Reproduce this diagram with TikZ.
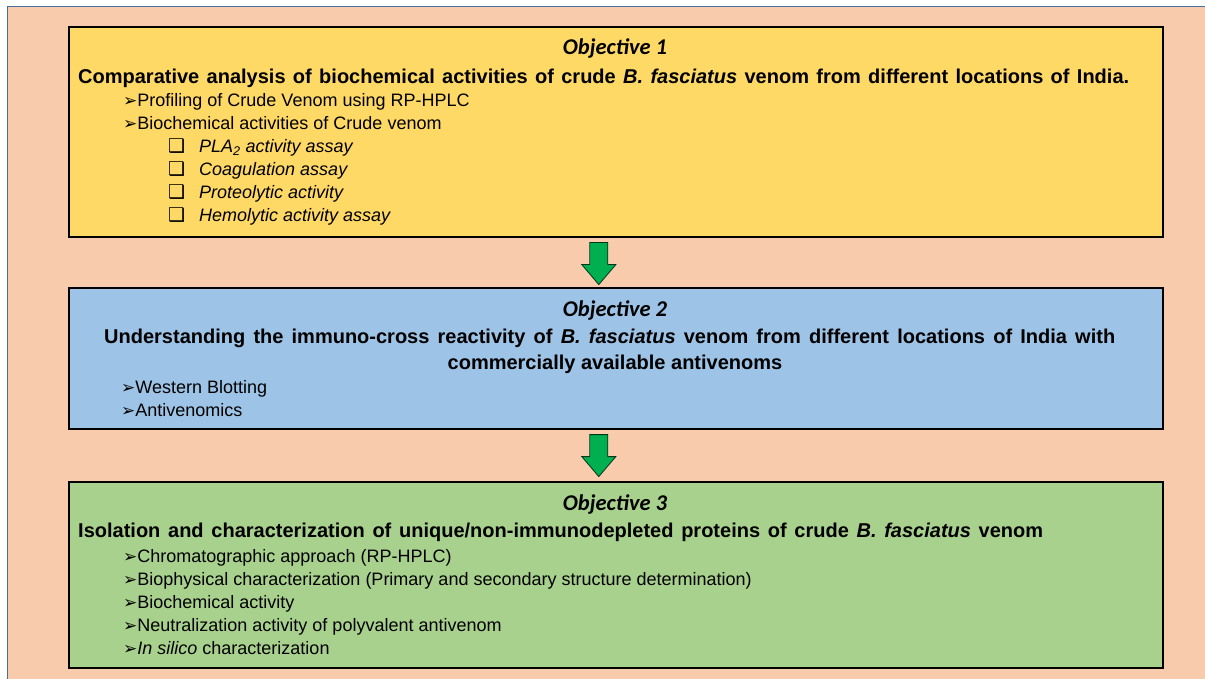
\documentclass[tikz,border=0pt]{standalone}
\usepackage{fontspec}
\setmainfont{Liberation Sans}
\newfontfamily\dvfont{DejaVu Sans}
\newfontfamily\calfont{Carlito}
\usetikzlibrary{calc}
\definecolor{peach}{HTML}{F8CBAD}
\definecolor{yel}{HTML}{FFD966}
\definecolor{blu}{HTML}{9DC3E6}
\definecolor{grn}{HTML}{A9D18E}
\definecolor{agreen}{HTML}{00B050}
\definecolor{frameblue}{HTML}{41719C}
\newcommand\arrbul{{\dvfont\fontsize{17}{19}\selectfont ➢}}
\newcommand\boxbul{{\dvfont\fontsize{19}{21}\selectfont ❑}}
\tikzset{
  objbox/.style={draw=black, line width=1.6pt, anchor=north west, inner sep=0pt, minimum width=1094pt},
  objtitle/.style={anchor=base, inner sep=0pt, font=\calfont\bfseries\itshape\fontsize{22.5}{26}\selectfont},
  headtext/.style={anchor=base west, inner sep=0pt, font=\bfseries\fontsize{20}{24}\selectfont},
  itemtext/.style={anchor=base west, inner sep=0pt, font=\fontsize{18}{21}\selectfont},
  subitem/.style={anchor=base west, inner sep=0pt, font=\fontsize{18}{21}\selectfont\itshape},
  blockarrow/.style={fill=agreen, draw=black!70!agreen, line width=0.8pt, line join=miter}
}
\newcommand\blockarrowat[1]{%
  \filldraw[blockarrow] ($(#1)+(-9,0)$) -- ($(#1)+(9,0)$) -- ($(#1)+(9,22)$) -- ($(#1)+(17,22)$)
    -- ($(#1)+(0,42)$) -- ($(#1)+(-17,22)$) -- ($(#1)+(-9,22)$) -- cycle;}
\begin{document}
\begin{tikzpicture}[x=1pt, y=-1pt]
\useasboundingbox (0,0) rectangle (1205,679);
\fill[white] (0,0) rectangle (1205,679);
\fill[peach] (7,7) rectangle (1205,679);
\draw[frameblue, line width=1pt] (7,679) -- (7,6.5) -- (1205,6.5);

% Box 1
\node[objbox, fill=yel, minimum height=210pt] (b1) at (68,26) {};
\node[objtitle] (o1) at (615,55) {Objective 1};
\node[headtext] (h1) at (78,84) {\makebox[1051pt][s]{Comparative analysis of biochemical activities of crude \textit{B. fasciatus} venom from different locations of India.}};
\node[itemtext] (i11) at (123,107) {\arrbul Profiling of Crude Venom using RP-HPLC};
\node[itemtext] (i12) at (123,130) {\arrbul Biochemical activities of Crude venom};
\node[itemtext] (c1) at (168,153) {\boxbul};
\node[subitem] (s1) at (199,153) {PLA\textsubscript{2} activity assay};
\node[itemtext] (c2) at (168,176) {\boxbul};
\node[subitem] (s2) at (199,176) {Coagulation assay};
\node[itemtext] (c3) at (168,199) {\boxbul};
\node[subitem] (s3) at (199,199) {Proteolytic activity};
\node[itemtext] (c4) at (168,222) {\boxbul};
\node[subitem] (s4) at (199,222) {Hemolytic activity assay};

% Box 2
\node[objbox, fill=blu, minimum height=141pt] (b2) at (68,287) {};
\node[objtitle] (o2) at (615,316) {Objective 2};
\node[headtext] (h21) at (104,343) {\makebox[1011pt][s]{Understanding the immuno-cross reactivity of \textit{B. fasciatus} venom from different locations of India with}};
\node[headtext, anchor=base] (h22) at (615,369) {commercially available antivenoms};
\node[itemtext] (i21) at (121,393) {\arrbul Western Blotting};
\node[itemtext] (i22) at (121,416) {\arrbul Antivenomics};

% Box 3
\node[objbox, fill=grn, minimum height=186pt] (b3) at (68,481) {};
\node[objtitle] (o3) at (615,510) {Objective 3};
\node[headtext] (h3) at (78,537) {\makebox[965pt][s]{Isolation and characterization of unique/non-immunodepleted proteins of crude \textit{B. fasciatus} venom}};
\node[itemtext] (i31) at (123,562) {\arrbul Chromatographic approach (RP-HPLC)};
\node[itemtext] (i32) at (123,585) {\arrbul Biophysical characterization (Primary and secondary structure determination)};
\node[itemtext] (i33) at (123,608) {\arrbul Biochemical activity};
\node[itemtext] (i34) at (123,631) {\arrbul Neutralization activity of polyvalent antivenom};
\node[itemtext] (i35) at (123,654) {\arrbul\textit{In silico} characterization};

% Arrows
\coordinate (a1) at ($(b1.south)+(-17,5)$);
\coordinate (a2) at ($(b2.south)+(-17,5)$);
\blockarrowat{a1}
\blockarrowat{a2}
\end{tikzpicture}
\end{document}
